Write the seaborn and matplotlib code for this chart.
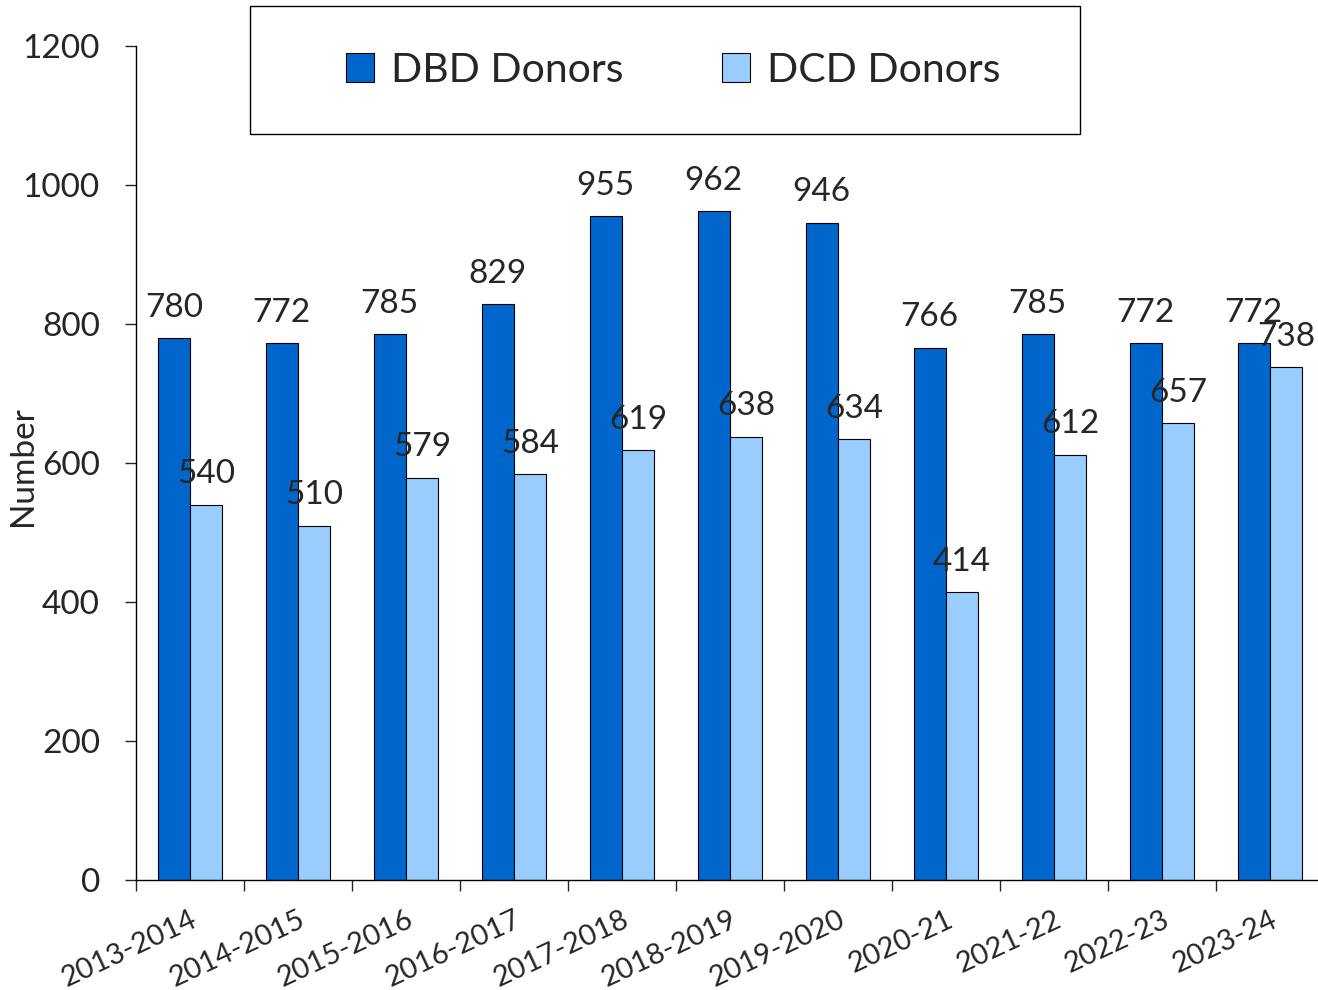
import matplotlib
matplotlib.use("Agg")
import matplotlib.pyplot as plt
import seaborn as sns
import pandas as pd
from matplotlib.patches import Patch, Rectangle

years = ["2013-2014", "2014-2015", "2015-2016", "2016-2017", "2017-2018",
         "2018-2019", "2019-2020", "2020-21", "2021-22", "2022-23", "2023-24"]
dbd = [780, 772, 785, 829, 955, 962, 946, 766, 785, 772, 772]
dcd = [540, 510, 579, 584, 619, 638, 634, 414, 612, 657, 738]
series = ["DBD Donors", "DCD Donors"]
colors = ["#0066CC", "#99CCFF"]

df = pd.DataFrame({
    "year": years * 2,
    "value": dbd + dcd,
    "type": [series[0]] * len(years) + [series[1]] * len(years),
})

sns.set_style("white")
plt.rcParams["font.family"] = ["Lato", "DejaVu Sans"]

fig = plt.figure(figsize=(13.18, 9.9), dpi=100)
ax = fig.add_axes([136/1318, 1-880/990, 1188/1318, 834/990])

sns.barplot(data=df, x="year", y="value", hue="type", palette=colors,
            width=0.6, edgecolor="black", linewidth=0.8, ax=ax, legend=False,
            saturation=1)

for cont in ax.containers:
    ax.bar_label(cont, fontsize=24, padding=11)

ax.set_ylim(0, 1200)
ax.set_xlim(-0.5, len(years) - 0.5)
ax.set_yticks(range(0, 1201, 200))
ax.tick_params(axis="y", labelsize=24, length=8, width=1, direction="out", left=True, pad=18)
ax.set_xticks(range(len(years)))
ax.set_xticklabels(years, rotation=25, ha="right", rotation_mode="anchor", fontsize=21)
ax.tick_params(axis="x", length=0, pad=19)
ax.set_xticks([i - 0.5 for i in range(len(years) + 1)], minor=True)
ax.tick_params(axis="x", which="minor", length=8, width=1, direction="out", bottom=True)
ax.set_xlabel("")
ax.set_ylabel("Number", fontsize=24)
ax.yaxis.set_label_coords(-0.0825, 0.496)
for s in ["top", "right"]:
    ax.spines[s].set_visible(False)
for s in ["left", "bottom"]:
    ax.spines[s].set_color("black")
    ax.spines[s].set_linewidth(1)

# legend box
fig.patches.append(Rectangle((250/1318, 1-134/990), 830/1318, 128/990,
                             transform=fig.transFigure, facecolor="white",
                             edgecolor="black", linewidth=1, zorder=5))
handles = [Patch(facecolor=c, edgecolor="black", linewidth=0.8) for c in colors]
leg = fig.legend(handles, series, loc="center", bbox_to_anchor=(673/1318, 1-70/990),
                 ncol=2, frameon=False, fontsize=29.5, handlelength=0.7,
                 handleheight=0.7, handletextpad=0.4, columnspacing=2.4)
leg.set_zorder(6)

fig.savefig("out.png", dpi=100)
